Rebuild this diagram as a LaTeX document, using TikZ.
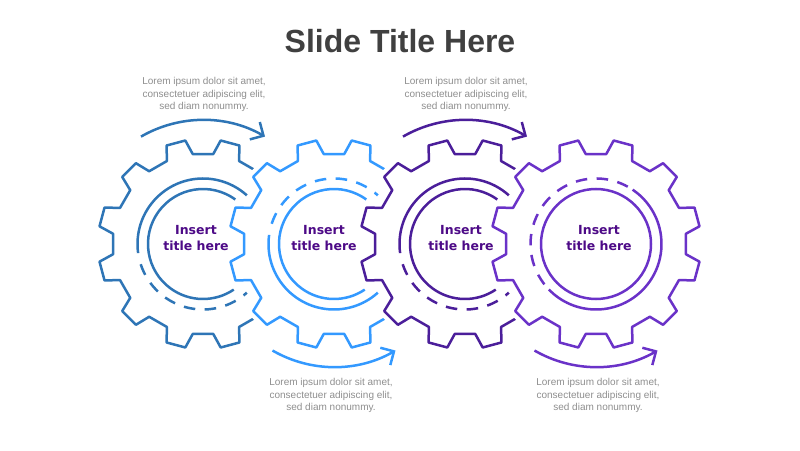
\documentclass[tikz,border=0pt]{standalone}
\usepackage{fontspec}
\setmainfont{Liberation Sans}
\newfontfamily\gearfont{DejaVu Sans}
\usetikzlibrary{arrows.meta}
\usetikzlibrary{calc}
\definecolor{blueA}{HTML}{2E75B6}
\definecolor{blueB}{HTML}{3399FF}
\definecolor{violetA}{HTML}{4B1E9A}
\definecolor{violetB}{HTML}{6A32C8}
\definecolor{titlegray}{HTML}{404040}
\definecolor{textgray}{HTML}{8E8E8E}
\definecolor{insertpurple}{HTML}{4D0A87}
\tikzstyle{title} = [font=\fontsize{32}{36}\selectfont\bfseries, text=titlegray, anchor=base]
\tikzstyle{lorem} = [font=\fontsize{10}{12.5}\selectfont, text=textgray, align=center]
\tikzstyle{insert} = [font=\gearfont\bfseries\fontsize{12.5}{16}\selectfont, text=insertpurple, align=center]
\tikzstyle{gearfill} = [fill=white, draw=white, line width=11pt, line join=round]
\tikzstyle{gearline} = [line width=2.5pt, line join=round]
\tikzstyle{ring} = [line width=2.5pt]
\tikzstyle{dashring} = [line width=2.5pt, dash pattern=on 11.5pt off 9.5pt]
\tikzstyle{arrow} = [line width=2.5pt, -{Straight Barb[length=10pt,width=20pt]}]
\newcommand{\gearteeth}{(6.5:90.5pt) \foreach \a in {15,45,...,345} {-- (\a-5.3:105pt) -- (\a+5.3:105pt) -- (\a+8.5:90.5pt) -- (\a+21.5:90.5pt)} -- cycle}

\begin{document}
\begin{tikzpicture}[x=1pt,y=1pt]
	\useasboundingbox (0,0) rectangle (800,450);
	\coordinate (G1) at (203,206);
	\coordinate (G2) at ($(G1)+(131,0)$);
	\coordinate (G3) at ($(G2)+(131,0)$);
	\coordinate (G4) at ($(G3)+(131,0)$);
	%gears, each one over the one before
	\begin{scope}[shift={(G1)}]
		\path [gearfill] \gearteeth;
		\draw [gearline, blueA] \gearteeth;
		\draw [ring, blueA] (54:55pt) arc (54:304:55pt);
		\draw [ring, blueA] (48:65.5pt) arc (48:188:65.5pt);
		\draw [dashring, blueA] (198:65.5pt) arc (198:312:65.5pt);
	\end{scope}
	\begin{scope}[shift={(G2)}]
		\path [gearfill] \gearteeth;
		\draw [gearline, blueB] \gearteeth;
		\draw [ring, blueB] (54:55pt) arc (54:304:55pt);
		\draw [ring, blueB] (172:65.5pt) arc (172:312:65.5pt);
		\draw [dashring, blueB] (162:65.5pt) arc (162:48:65.5pt);
	\end{scope}
	\begin{scope}[shift={(G3)}]
		\path [gearfill] \gearteeth;
		\draw [gearline, violetA] \gearteeth;
		\draw [ring, violetA] (54:55pt) arc (54:304:55pt);
		\draw [ring, violetA] (48:65.5pt) arc (48:188:65.5pt);
		\draw [dashring, violetA] (198:65.5pt) arc (198:312:65.5pt);
	\end{scope}
	\begin{scope}[shift={(G4)}]
		\path [gearfill] \gearteeth;
		\draw [gearline, violetB] \gearteeth;
		\draw [ring, violetB] (0,0) circle (55pt);
		\draw [ring, violetB] (-136:65.5pt) arc (-136:56:65.5pt);
		\draw [dashring, violetB] (61:65.5pt) arc (61:222:65.5pt);
	\end{scope}
	\draw [arrow, blueA] ($(G1)+(120:124pt)$) arc (120:60:124pt);
	\draw [arrow, blueB] ($(G2)+(-120:123pt)$) arc (-120:-60:123pt);
	\draw [arrow, violetA] ($(G3)+(120:124pt)$) arc (120:60:124pt);
	\draw [arrow, violetB] ($(G4)+(-120:123pt)$) arc (-120:-60:123pt);
	\node (T1) [insert] at ($(G1)+(-7,6)$) {Insert\\title here};
	\node (T2) [insert] at ($(G2)+(-10,6)$) {Insert\\title here};
	\node (T3) [insert] at ($(G3)+(-4,6)$) {Insert\\title here};
	\node (T4) [insert] at ($(G4)+(3,6)$) {Insert\\title here};
	\node (Title) [title] at (400,397) {Slide Title Here};
	\node (L1) [lorem] at (204,355.3) {Lorem ipsum dolor sit amet,\\consectetuer adipiscing elit,\\sed diam nonummy.};
	\node (L2) [lorem] at (466,355.3) {Lorem ipsum dolor sit amet,\\consectetuer adipiscing elit,\\sed diam nonummy.};
	\node (L3) [lorem] at (331,54.3) {Lorem ipsum dolor sit amet,\\consectetuer adipiscing elit,\\sed diam nonummy.};
	\node (L4) [lorem] at (598,54.3) {Lorem ipsum dolor sit amet,\\consectetuer adipiscing elit,\\sed diam nonummy.};
\end{tikzpicture}
\end{document}
